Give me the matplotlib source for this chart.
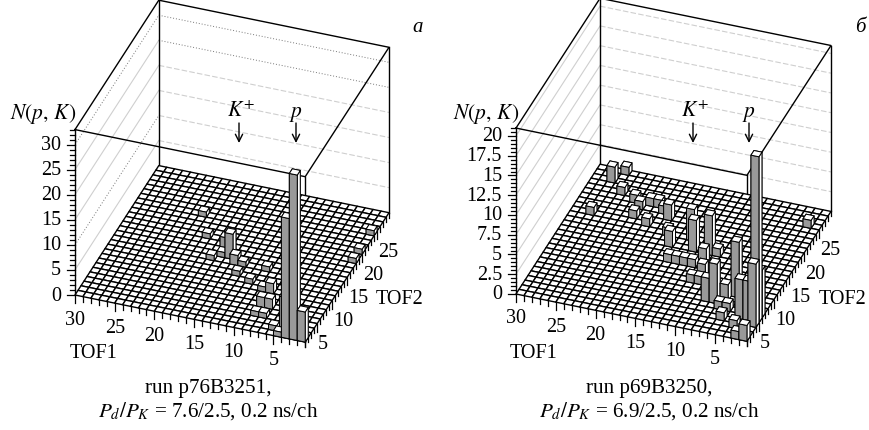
import numpy as np
import matplotlib
matplotlib.use("Agg")
import matplotlib.pyplot as plt
from mpl_toolkits.mplot3d import proj3d

plt.rcParams['font.family'] = ['Liberation Serif', 'DejaVu Serif']
plt.rcParams['mathtext.fontset'] = 'stix'

# Histogram cells: lower TOF1 bin, lower TOF2 bin, counts
a_tof1 = [2, 1, 3, 4, 4, 7, 8, 21, 19, 15, 16, 14, 17, 16, 13, 10, 13, 11, 8, 9, 7, 8, 5, 1, 1, 1]
a_tof2 = [1, 1, 1, 3, 1, 6, 6, 21, 17, 14, 15, 13, 13, 14, 13, 13, 11, 10, 9, 9, 4, 4, 2, 24, 20, 18]
a_counts = [33, 6, 24, 6, 1, 2, 2, 1, 1, 5, 3, 2, 1, 1, 1, 1, 1, 1, 2, 1, 1, 1, 1, 1, 1, 1]

b_tof1 = [1, 1, 1, 2, 3, 5, 7, 8, 6, 10, 10, 11, 13, 14, 11, 15, 14, 13, 12, 11, 10,
          5, 6, 5, 1, 2, 3, 2, 27, 26, 25, 27, 22, 20, 18, 23, 22, 21, 20, 19, 17, 16]
b_tof2 = [5, 4, 6, 5, 5, 9, 7, 7, 8, 11, 16, 16, 16, 18, 14, 13, 13, 13, 13, 10, 10,
          4, 6, 6, 1, 1, 3, 25, 26, 28, 24, 19, 20, 19, 21, 23, 22, 23, 23, 22, 18, 16]
b_counts = [21, 8, 6, 5, 5, 7, 5, 3, 2, 2, 1, 5, 4, 4, 2, 1, 1, 1, 1, 1, 1,
            1, 1, 1, 2, 1, 1, 1, 2, 1, 1, 1, 1, 1, 2, 1, 1, 1, 1, 1, 1, 2]

tof1_ticks = [5, 10, 15, 20, 25, 30]
tof2_ticks = [5, 10, 15, 20, 25]
a_zticks = [0, 5, 10, 15, 20, 25, 30]
b_zticks = [0, 2.5, 5, 7.5, 10, 12.5, 15, 17.5, 20]

W, H = 870, 430
fig = plt.figure(figsize=(W / 100, H / 100), dpi=100)
overlay = fig.add_axes([0, 0, 1, 1], zorder=5)
overlay.set_xlim(0, W)
overlay.set_ylim(H, 0)
overlay.axis('off')


def to_px(ax, x, y, z):
    xs, ys, _ = proj3d.proj_transform(x, y, z, ax.get_proj())
    px, py = ax.transData.transform((xs, ys))
    return px, H - py


def panel(tof1, tof2, counts, zticks, zmax, zminor, left, right, dotted_left, dotted_back):
    side = 500
    ax = fig.add_axes([0, 0, side / W, side / H], projection='3d', proj_type='ortho', computed_zorder=False)
    ax.set_box_aspect((245, 245, 200))
    ax.view_init(elev=34.2, azim=200)
    ax.set_xlim(1, 29)
    ax.set_ylim(1, 30)
    ax.set_zlim(0, zmax)
    ax.set_axis_off()

    # scale and shift the axes so the floor sits at the wanted place
    x0 = to_px(ax, 1, 30, 0)[0]
    x1 = to_px(ax, 29, 1, 0)[0]
    side *= (right[0] - left[0]) / (x1 - x0)
    ax.set_position([0, 0, side / W, side / H])
    px, py = to_px(ax, 1, 30, 0)
    ax.set_position([(left[0] - px) / W, (py - left[1]) / H, side / W, side / H])

    grey_kw = dict(color='#cfcfcf', lw=0.8, zorder=1, clip_on=False)
    for z in zticks:
        if z == 0:
            continue
        if z in dotted_left:
            ax.plot([1, 29], [30, 30], [z, z], color='#777777', lw=0.7, ls=(0, (1, 2)), zorder=1, clip_on=False)
        else:
            ax.plot([1, 29], [30, 30], [z, z], **grey_kw)
        if z in dotted_back:
            ax.plot([29, 29], [30, 1], [z, z], color='#777777', lw=0.7, ls=(0, (1, 2)), zorder=1, clip_on=False)
        else:
            ax.plot([29, 29], [30, 1], [z, z], ls=(0, (5, 2)), **grey_kw)

    # box frame
    frame = dict(color='black', lw=1.0, zorder=1, clip_on=False)
    ax.plot([1, 1], [30, 30], [0, zmax], **frame)
    ax.plot([29, 29], [30, 30], [0, zmax], **frame)
    ax.plot([29, 29], [1, 1], [0, zmax], **frame)
    ax.plot([1, 1], [1, 1], [0, zmax], **frame)
    ax.plot([1, 29, 29, 1, 1], [30, 30, 1, 1, 30], [zmax] * 5, **frame)

    # floor
    gx, gy = np.meshgrid(np.arange(1, 30), np.arange(1, 31))
    ax.plot_surface(gx, gy, np.zeros_like(gx, dtype=float), rstride=1, cstride=1, color='white',
                    edgecolor='black', linewidth=1.0, shade=False, zorder=2)

    # bars, back to front
    order = np.argsort(-(np.array(tof1) + np.array(tof2)), kind='stable')
    faces = ['white', 'white', 'white', 'white', '#999999', 'white']
    for k, n in enumerate(order):
        ax.bar3d(tof2[n], tof1[n], 0, 1, 1, counts[n], color=faces, edgecolor='black',
                 linewidth=0.7, shade=False, zorder=3 + k)

    # ticks and labels on the overlay
    for z in np.arange(0, zmax + 1e-6, zminor):
        px, py = to_px(ax, 1, 30, z)
        major = any(abs(z - t) < 1e-6 for t in zticks)
        overlay.plot([px - (8 if major else 5), px], [py, py], color='black', lw=0.9, clip_on=False)
    for z in zticks:
        px, py = to_px(ax, 1, 30, z)
        lab = '%g' % z
        overlay.text(px - 14, py + 1, lab, ha='right', va='center', fontsize=14.5)
    for t in range(1, 31):
        px, py = to_px(ax, 1, t, 0)
        overlay.plot([px, px], [py, py + (8 if t in tof1_ticks else 5)], color='black', lw=0.9, clip_on=False)
    for t in range(1, 30):
        px, py = to_px(ax, t, 1, 0)
        overlay.plot([px, px], [py, py + (8 if t in tof2_ticks else 5)], color='black', lw=0.9, clip_on=False)
    for t in tof1_ticks:
        px, py = to_px(ax, 1, t, 0)
        overlay.text(px, py + 25, str(t), ha='center', va='center', fontsize=14.5)
    for t in tof2_ticks:
        px, py = to_px(ax, t, 1, 0)
        overlay.text(px + 1, py + 21, str(t), ha='left', va='center', fontsize=14.5)
    return ax


panel(a_tof1, a_tof2, a_counts, a_zticks, 33, 1, (75, 295), (389, 212), [10, 30], [25, 30])
panel(b_tof1, b_tof2, b_counts, b_zticks, 21, 0.5, (516, 294), (831, 212), [], [])

# annotations
for x0, tof1_x, tof2_x, kx, px_, letter, letter_x, run, ratio, cx in [
    (10, 94, 400, 239, 296, 'а', 418, 'run p76B3251,', '7.6/2.5', 208),
    (453, 534, 843, 693, 749, 'б', 860, 'run p69B3250,', '6.9/2.5', 649),
]:
    overlay.text(x0, 114, r'$N(p,\,K)$', ha='left', va='center', fontsize=15.5)
    overlay.text(tof1_x, 354, 'TOF1', ha='center', va='center', fontsize=14.5)
    overlay.text(tof2_x, 300, 'TOF2', ha='center', va='center', fontsize=14.5)
    overlay.text(kx + 2, 112, r'$K^{+}$', ha='center', va='center', fontsize=15.5)
    overlay.text(px_, 114, r'$p$', ha='center', va='center', fontsize=15.5)
    for ax_ in (kx, px_):
        overlay.annotate('', xy=(ax_, 143), xytext=(ax_, 123),
                         arrowprops=dict(arrowstyle='->', color='black', lw=1.0, shrinkA=0, shrinkB=0,
                                         mutation_scale=13))
    overlay.text(letter_x, 27, letter, ha='center', va='center', fontsize=15, style='italic')
    overlay.text(cx, 389, run, ha='center', va='center', fontsize=15.2)
    overlay.text(cx, 411, r'$P_d/P_K$ = ' + ratio + ', 0.2 ns/ch', ha='center', va='center', fontsize=15.2)

fig.savefig('out.png', dpi=100)
